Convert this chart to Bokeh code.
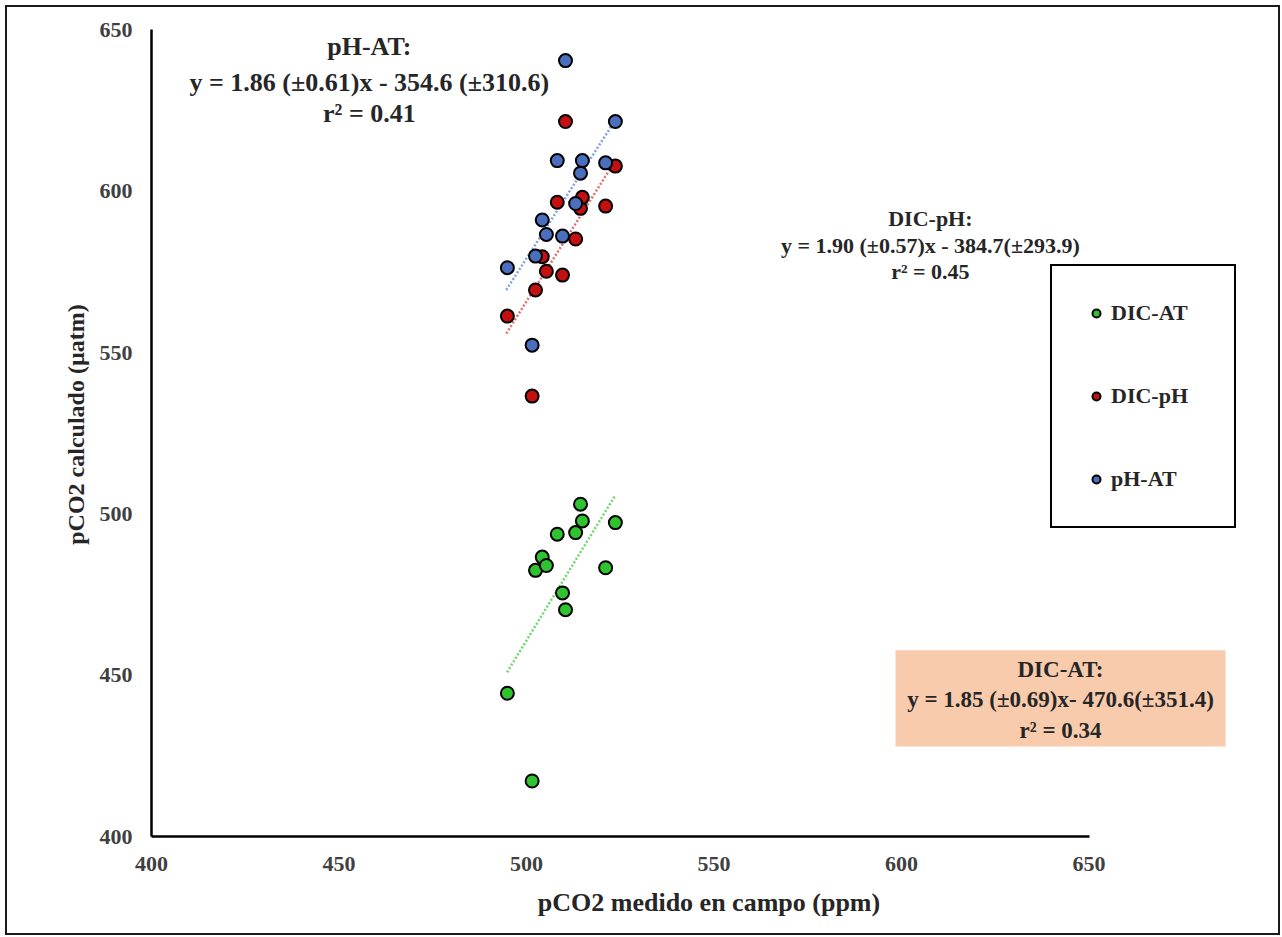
from bokeh.plotting import figure
from bokeh.models import (Range1d, FixedTicker, Label, Legend, LegendItem,
                          BoxAnnotation, ColumnDataSource)
from bokeh.embed import file_html
from bokeh.resources import INLINE

# ---------------- data ----------------
pco2_campo = [494.9, 501.5, 502.4, 504.2, 505.3, 508.2, 509.6, 510.4, 513.1, 514.4, 514.9, 521.1, 523.7]
dic_at = [444.4, 417.2, 482.5, 486.6, 484.0, 493.7, 475.5, 470.3, 494.2, 503.0, 497.8, 483.3, 497.3]
dic_ph = [561.3, 536.5, 569.4, 579.7, 575.2, 596.6, 574.0, 621.6, 585.2, 594.7, 598.1, 595.4, 607.8]
ph_at = [576.3, 552.3, 579.9, 591.1, 586.6, 609.5, 586.1, 640.5, 596.2, 605.6, 609.5, 608.8, 621.6]

trend_dic_at_x = [494.8, 523.7]
trend_dic_at_y = [450.9, 505.8]
trend_dic_ph_x = [494.6, 522.4]
trend_dic_ph_y = [555.9, 607.1]
trend_ph_at_x = [494.6, 523.7]
trend_ph_at_y = [569.4, 622.1]

ticks = [400, 450, 500, 550, 600, 650]
series_names = ["DIC-AT", "DIC-pH", "pH-AT"]

eq_ph_at = ["pH-AT:", "y = 1.86 (\u00b10.61)x - 354.6 (\u00b1310.6)", "r\u00b2 = 0.41"]
eq_dic_ph = ["DIC-pH:", "y = 1.90 (\u00b10.57)x - 384.7(\u00b1293.9)", "r\u00b2 = 0.45"]
eq_dic_at = ["DIC-AT:", "y = 1.85 (\u00b10.69)x- 470.6(\u00b1351.4)", "r\u00b2 = 0.34"]

# ---------------- styling ----------------
FONT = "Liberation Serif"
TXT = "#262626"
C_GREEN = "#2fc42f"
C_RED = "#c41010"
C_BLUE = "#4a6fbf"

p = figure(width=1271, height=926, output_backend="svg", toolbar_location=None,
           x_range=Range1d(400, 697.33), y_range=Range1d(400, 655.4),
           min_border_left=144, min_border_right=12, min_border_top=5, min_border_bottom=97,
           background_fill_color="white", border_fill_color="white")
p.outline_line_color = None
p.xgrid.visible = False
p.ygrid.visible = False
p.styles = {"margin-left": "7px", "margin-top": "7px",
            "outline": "2px solid #1a1a1a", "outline-offset": "0px"}

for ax, b in ((p.xaxis[0], (400, 650)), (p.yaxis[0], (400, 650))):
    ax.bounds = b
    ax.ticker = FixedTicker(ticks=ticks)
    ax.axis_line_color = "black"
    ax.axis_line_width = 2.5
    ax.major_tick_in = 0
    ax.major_tick_out = 0
    ax.minor_tick_in = 0
    ax.minor_tick_out = 0
    ax.major_label_text_font = FONT
    ax.major_label_text_font_style = "bold"
    ax.major_label_text_font_size = "22px"
    ax.major_label_text_color = "#404040"
    ax.axis_label_text_font = FONT
    ax.axis_label_text_font_style = "bold"
    ax.axis_label_text_color = TXT

p.xaxis.axis_label = "pCO2 medido en campo (ppm)"
p.yaxis.axis_label = "pCO2 calculado (\u00b5atm)"
p.xaxis.axis_label_text_font_size = "26px"
p.yaxis.axis_label_text_font_size = "24px"
p.xaxis.major_label_standoff = 20
p.xaxis.axis_label_standoff = 14
p.yaxis.major_label_standoff = 19
p.yaxis.axis_label_standoff = 8
p.yaxis.major_label_orientation = "horizontal"

# trend lines
p.line(trend_dic_at_x, trend_dic_at_y, line_color="#6ad86a", line_width=2.5, line_dash="2 2")
p.line(trend_dic_ph_x, trend_dic_ph_y, line_color="#e07070", line_width=2.5, line_dash="2 2")
p.line(trend_ph_at_x, trend_ph_at_y, line_color="#7fa3dc", line_width=2.5, line_dash="2 2")

src = ColumnDataSource(dict(x=pco2_campo, dic_at=dic_at, dic_ph=dic_ph, ph_at=ph_at))
r1 = p.scatter("x", "dic_at", source=src, size=13, fill_color=C_GREEN, line_color="black", line_width=2)
r2 = p.scatter("x", "dic_ph", source=src, size=13, fill_color=C_RED, line_color="black", line_width=2)
r3 = p.scatter("x", "ph_at", source=src, size=13, fill_color=C_BLUE, line_color="black", line_width=2)

legend = Legend(items=[LegendItem(label=series_names[0], renderers=[r1]),
                       LegendItem(label=series_names[1], renderers=[r2]),
                       LegendItem(label=series_names[2], renderers=[r3])],
                location=(899, 308), orientation="vertical",
                border_line_color="black", border_line_width=2, border_line_alpha=1,
                background_fill_color="white", background_fill_alpha=1,
                padding=34, spacing=57, margin=0,
                glyph_height=20, glyph_width=20, label_height=20, label_width=89,
                label_standoff=5,
                label_text_font=FONT, label_text_font_style="bold",
                label_text_font_size="22px", label_text_color=TXT)
p.add_layout(legend, "center")

# equation texts
def add_block(lines, cx, ys, size):
    for t, yy in zip(lines, ys):
        p.add_layout(Label(x=cx, y=yy, text=t, text_align="center", text_baseline="middle",
                           text_font=FONT, text_font_style="bold", text_font_size=size,
                           text_color=TXT))

add_block(eq_ph_at, 458.1, [644.9, 633.7, 624.1], "26px")
add_block(eq_dic_ph, 607.7, [591.6, 583.2, 575.1], "22px")
p.add_layout(BoxAnnotation(left=598.4, right=686.4, top=457.7, bottom=427.9,
                           fill_color="#f8cbad", fill_alpha=1, line_color=None))
add_block(eq_dic_at, 642.4, [451.8, 442.5, 432.9], "23px")

open("out.html", "w").write(file_html(p, INLINE))
